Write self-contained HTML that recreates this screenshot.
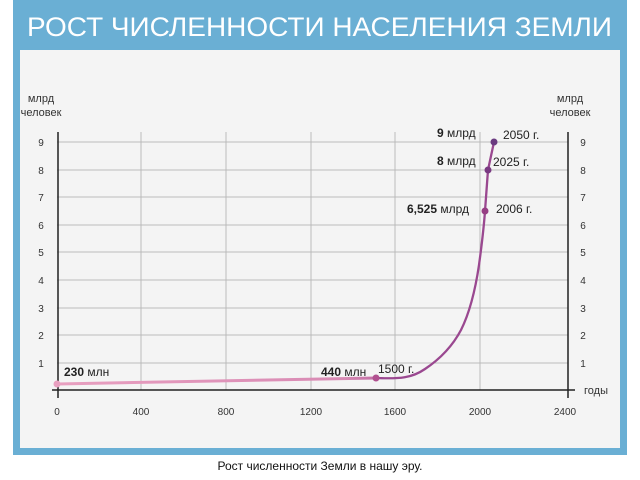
<!DOCTYPE html>
<html><head><meta charset="utf-8"><style>
html,body{margin:0;padding:0;background:#fff;width:640px;height:480px;overflow:hidden}
</style></head><body>
<svg width="640" height="480" xmlns="http://www.w3.org/2000/svg" font-family="Liberation Sans, DejaVu Sans, sans-serif">
<defs>
<linearGradient id="g" x1="57" y1="0" x2="440" y2="0" gradientUnits="userSpaceOnUse">
<stop offset="0" stop-color="#e8a0c0"/><stop offset="0.75" stop-color="#d88ab4"/><stop offset="0.9" stop-color="#b0589a"/><stop offset="1" stop-color="#98468c"/>
</linearGradient>
</defs>
<rect x="13" y="0" width="614" height="455" fill="#6aafd4"/>
<rect x="20" y="50" width="600" height="398" fill="#f4f4f4"/>
<text x="27" y="36" fill="#fff" font-size="27" textLength="585" lengthAdjust="spacingAndGlyphs">РОСТ ЧИСЛЕННОСТИ НАСЕЛЕНИЯ ЗЕМЛИ</text>
<g stroke="#bbb" stroke-width="1">
<line x1="57" y1="142" x2="568" y2="142"/><line x1="57" y1="170" x2="568" y2="170"/>
<line x1="57" y1="197" x2="568" y2="197"/><line x1="57" y1="225" x2="568" y2="225"/>
<line x1="57" y1="252" x2="568" y2="252"/><line x1="57" y1="280" x2="568" y2="280"/>
<line x1="57" y1="308" x2="568" y2="308"/><line x1="57" y1="335" x2="568" y2="335"/>
<line x1="57" y1="363" x2="568" y2="363"/>
<line x1="141" y1="132" x2="141" y2="390"/><line x1="226" y1="132" x2="226" y2="390"/>
<line x1="311" y1="132" x2="311" y2="390"/><line x1="395" y1="132" x2="395" y2="390"/>
<line x1="480" y1="132" x2="480" y2="390"/>
</g>
<g stroke="#222" stroke-width="1.5">
<line x1="58" y1="132" x2="58" y2="398"/><line x1="568" y1="132" x2="568" y2="398"/>
<line x1="52" y1="390" x2="575" y2="390"/>
</g>
<g font-size="11" fill="#333">
<text x="41" y="102" text-anchor="middle">млрд</text><text x="41" y="116" text-anchor="middle">человек</text>
<text x="570" y="102" text-anchor="middle">млрд</text><text x="570" y="116" text-anchor="middle">человек</text>
<text x="584" y="394">годы</text>
</g>
<g font-size="10" fill="#333" text-anchor="middle">
<text x="41" y="146">9</text><text x="41" y="174">8</text><text x="41" y="201">7</text><text x="41" y="229">6</text><text x="41" y="256">5</text><text x="41" y="284">4</text><text x="41" y="312">3</text><text x="41" y="339">2</text><text x="41" y="367">1</text>
<text x="583" y="146">9</text><text x="583" y="174">8</text><text x="583" y="201">7</text><text x="583" y="229">6</text><text x="583" y="256">5</text><text x="583" y="284">4</text><text x="583" y="312">3</text><text x="583" y="339">2</text><text x="583" y="367">1</text>
<text x="57" y="415">0</text><text x="141" y="415">400</text><text x="226" y="415">800</text><text x="311" y="415">1200</text><text x="395" y="415">1600</text><text x="480" y="415">2000</text><text x="565" y="415">2400</text>
</g>
<path d="M57,384 L376,378" fill="none" stroke="url(#g)" stroke-width="3"/>
<path d="M376,378 C400,379 412,378 425,369 C440,359 452,347 461,330 C469,314 475,292 479,265 C482,243 484,225 485,211 L488,170 L494,142" fill="none" stroke="#9a4890" stroke-width="2.3" stroke-linejoin="round"/>
<circle cx="57" cy="384" r="3.5" fill="#e8a0c0"/>
<circle cx="376" cy="378" r="3.5" fill="#b0508f"/>
<circle cx="485" cy="211" r="3.5" fill="#963e84"/>
<circle cx="488" cy="170" r="3.5" fill="#7a3a82"/>
<circle cx="494" cy="142" r="3.5" fill="#6a3a80"/>
<g font-size="12" fill="#222">
<text x="64" y="376"><tspan font-weight="bold">230</tspan> млн</text>
<text x="321" y="376"><tspan font-weight="bold">440</tspan> млн</text>
<text x="378" y="373">1500 г.</text>
<text x="437" y="137"><tspan font-weight="bold">9</tspan> млрд</text>
<text x="503" y="139">2050 г.</text>
<text x="437" y="165"><tspan font-weight="bold">8</tspan> млрд</text>
<text x="493" y="166">2025 г.</text>
<text x="407" y="213"><tspan font-weight="bold">6,525</tspan> млрд</text>
<text x="496" y="213">2006 г.</text>
</g>
<text x="320" y="470" font-size="12" fill="#111" text-anchor="middle">Рост численности Земли в нашу эру.</text>
</svg>
</body></html>
